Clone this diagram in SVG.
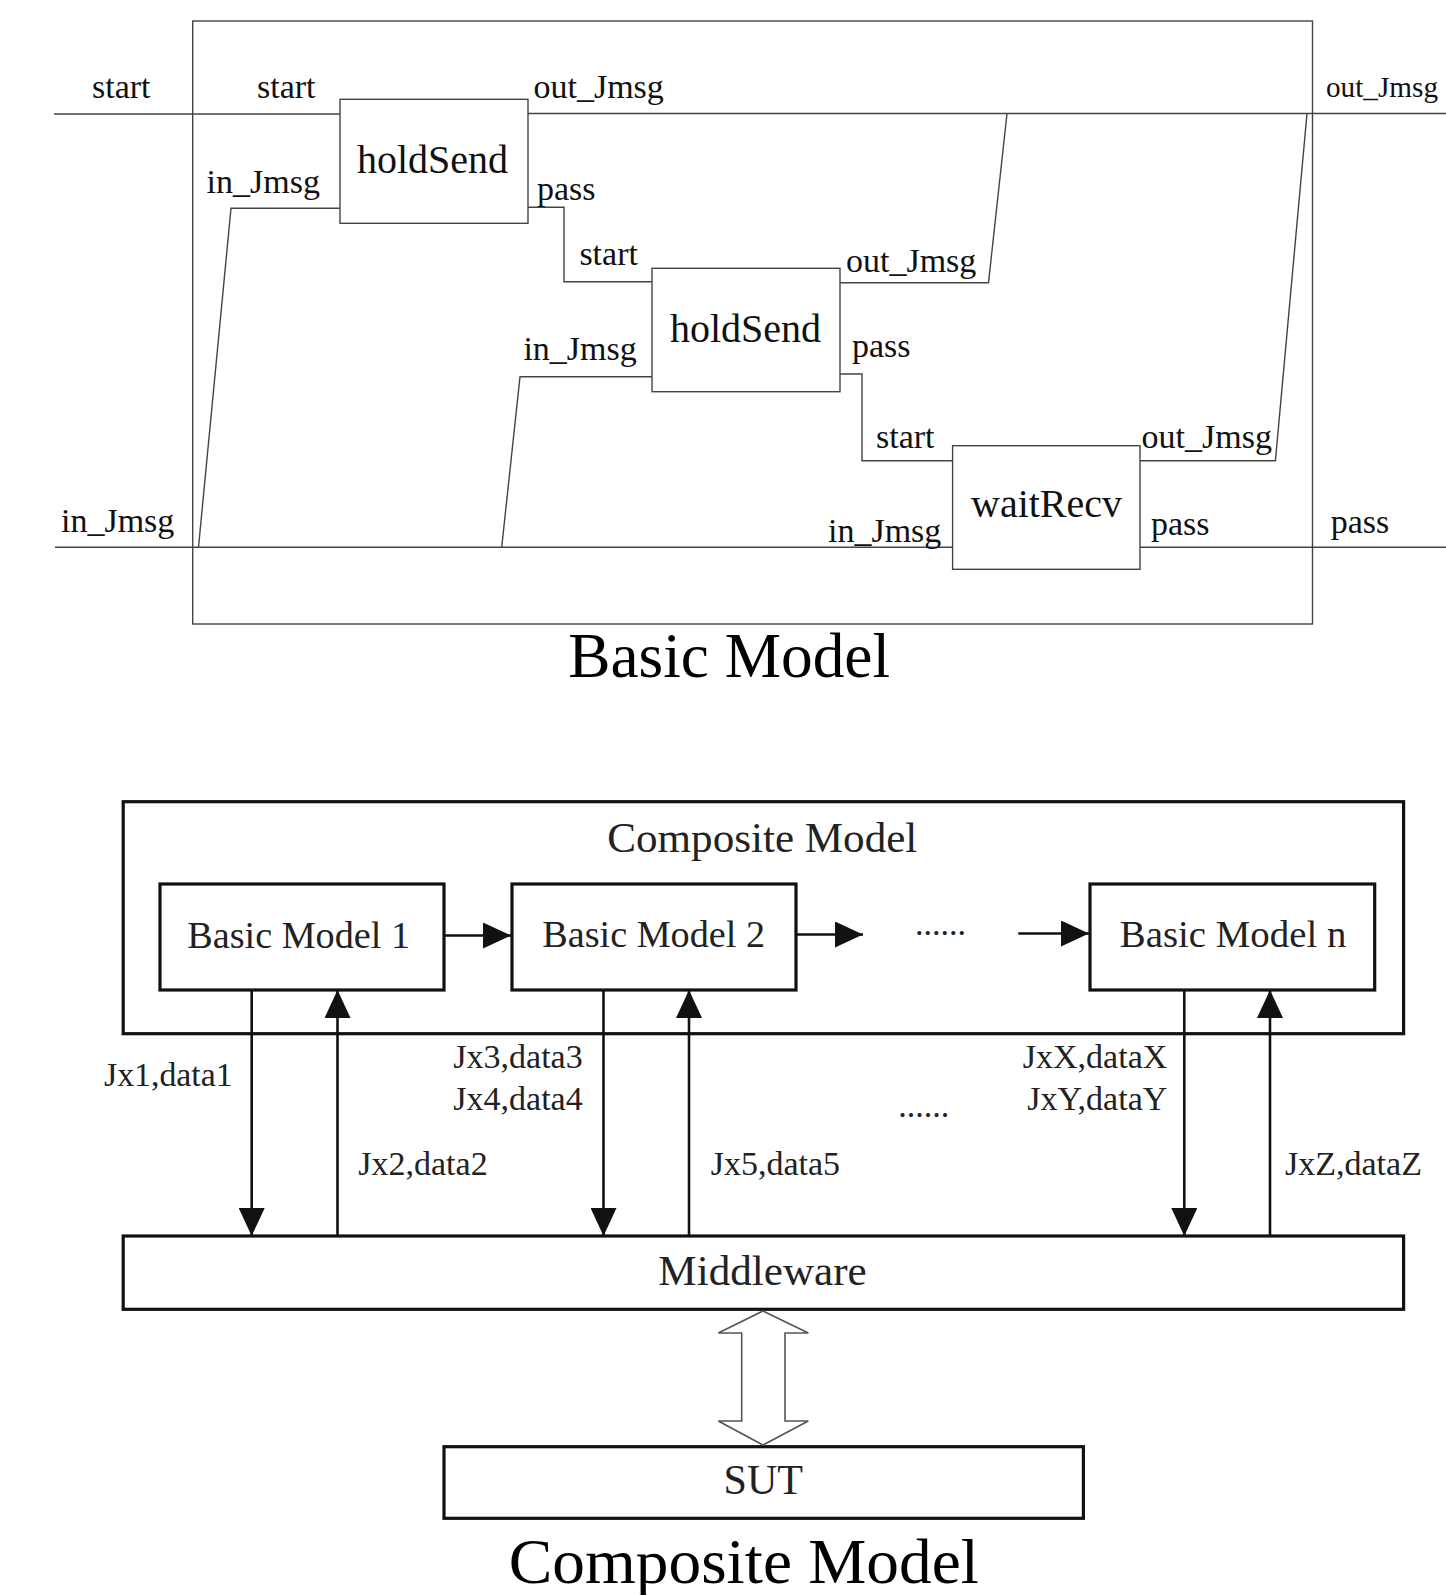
<svg xmlns="http://www.w3.org/2000/svg" width="1446" height="1595" viewBox="0 0 1446 1595">
<style>
  text { font-family: "Liberation Serif", "Times New Roman", serif; fill: #111; }
  .port { font-size: 34px; }
  .bname { font-size: 40px; }
  .title { font-size: 64px; fill: #000; }
  .clbl { font-size: 34px; fill: #222; }
  .cname { font-size: 38px; fill: #222; }
  .big { font-size: 43px; fill: #222; }
  .thin { fill: none; stroke: #444; stroke-width: 1.4; }
  .tbox { fill: #fff; stroke: #444; stroke-width: 1.4; }
  .cbox { fill: #fff; stroke: #111; stroke-width: 3.2; }
  .carrow { fill: none; stroke: #111; stroke-width: 2.6; }
</style>
<defs>
  <marker id="ah" viewBox="0 0 28 26" refX="28" refY="13" markerWidth="28" markerHeight="26" markerUnits="userSpaceOnUse" orient="auto">
    <path d="M0,0 L28,13 L0,26 z" fill="#111"/>
  </marker>
</defs>
<rect width="1446" height="1595" fill="#fff"/>

<!-- ===== Basic Model ===== -->
<g id="basic-model-frame">
  <rect x="192.7" y="21" width="1119.8" height="603" class="thin"/>
</g>

<g id="connectors-basic">
  <line x1="54" y1="114" x2="340" y2="114" class="thin"/>
  <line x1="528" y1="113.5" x2="1446" y2="113.5" class="thin"/>
  <line x1="55" y1="547.3" x2="952.6" y2="547.3" class="thin"/>
  <line x1="1140" y1="547.3" x2="1446" y2="547.3" class="thin"/>
  <polyline points="340,208.3 231,208.3 198.5,547.3" class="thin"/>
  <polyline points="528,207.3 564,207.3 564,281.7 652,281.7" class="thin"/>
  <polyline points="652,376.7 520,376.7 501.7,547.3" class="thin"/>
  <polyline points="840,282.7 988.5,282.7 1007,113.5" class="thin"/>
  <polyline points="840,374 862,374 862,460.7 952.6,460.7" class="thin"/>
  <polyline points="1140,460.7 1275.4,460.7 1307,113.5" class="thin"/>
</g>

<g id="holdSend1">
  <rect x="340" y="99.3" width="188" height="124" class="tbox"/>
  <text x="357" y="173" class="bname">holdSend</text>
</g>
<g id="holdSend2">
  <rect x="652" y="268.3" width="188" height="123.4" class="tbox"/>
  <text x="670" y="342" class="bname">holdSend</text>
</g>
<g id="waitRecv">
  <rect x="952.6" y="445.7" width="187.4" height="123.6" class="tbox"/>
  <text x="971" y="517.3" class="bname">waitRecv</text>
</g>

<g id="port-labels">
  <text x="92" y="98" class="port">start</text>
  <text x="257" y="98" class="port">start</text>
  <text x="533.5" y="98" class="port">out_Jmsg</text>
  <text x="1326" y="97" class="port" style="font-size:30px" textLength="112" lengthAdjust="spacingAndGlyphs">out_Jmsg</text>
  <text x="206.6" y="192.7" class="port">in_Jmsg</text>
  <text x="537" y="200" class="port">pass</text>
  <text x="579.4" y="265" class="port">start</text>
  <text x="846" y="272" class="port">out_Jmsg</text>
  <text x="523.4" y="360" class="port">in_Jmsg</text>
  <text x="852" y="357" class="port">pass</text>
  <text x="876" y="448" class="port">start</text>
  <text x="1141.6" y="448" class="port">out_Jmsg</text>
  <text x="61" y="531.7" class="port">in_Jmsg</text>
  <text x="828" y="542" class="port">in_Jmsg</text>
  <text x="1151" y="535" class="port">pass</text>
  <text x="1330.7" y="533" class="port">pass</text>
</g>

<text x="568.3" y="677.3" class="title" textLength="321.7" lengthAdjust="spacingAndGlyphs">Basic Model</text>

<!-- ===== Composite Model ===== -->
<g id="composite-model">
  <rect x="123.2" y="801.7" width="1280.4" height="232" class="cbox"/>
  <text x="607.3" y="851.7" class="big" textLength="310" lengthAdjust="spacingAndGlyphs">Composite Model</text>
</g>
<g id="basic-model-1">
  <rect x="160" y="884" width="284" height="106" class="cbox"/>
  <text x="187.3" y="948" class="cname" textLength="222.7" lengthAdjust="spacingAndGlyphs">Basic Model 1</text>
</g>
<g id="basic-model-2">
  <rect x="512" y="884" width="284" height="106" class="cbox"/>
  <text x="542.3" y="947" class="cname" textLength="222.7" lengthAdjust="spacingAndGlyphs">Basic Model 2</text>
</g>
<g id="basic-model-n">
  <rect x="1090" y="884" width="284.7" height="106" class="cbox"/>
  <text x="1119.8" y="947" class="cname" textLength="226.5" lengthAdjust="spacingAndGlyphs">Basic Model n</text>
</g>
<g id="middleware">
  <rect x="123.2" y="1236" width="1280.4" height="73.3" class="cbox"/>
  <text x="658.3" y="1285" class="big" textLength="208.4" lengthAdjust="spacingAndGlyphs">Middleware</text>
</g>
<g id="sut">
  <rect x="444" y="1446.7" width="639.4" height="71.6" class="cbox"/>
  <text x="723.5" y="1494" class="big" textLength="79.5" lengthAdjust="spacingAndGlyphs">SUT</text>
</g>

<g id="connectors-composite">
  <line x1="444" y1="935.5" x2="511" y2="935.5" class="carrow" marker-end="url(#ah)"/>
  <line x1="796" y1="934.5" x2="863" y2="934.5" class="carrow" marker-end="url(#ah)"/>
  <line x1="1018.3" y1="933.5" x2="1089" y2="933.5" class="carrow" marker-end="url(#ah)"/>
  <line x1="251.7" y1="990" x2="251.7" y2="1236" class="carrow" marker-end="url(#ah)"/>
  <line x1="337.5" y1="1236" x2="337.5" y2="990" class="carrow" marker-end="url(#ah)"/>
  <line x1="603.5" y1="990" x2="603.5" y2="1236" class="carrow" marker-end="url(#ah)"/>
  <line x1="689" y1="1236" x2="689" y2="990" class="carrow" marker-end="url(#ah)"/>
  <line x1="1184.3" y1="990" x2="1184.3" y2="1236" class="carrow" marker-end="url(#ah)"/>
  <line x1="1270" y1="1236" x2="1270" y2="990" class="carrow" marker-end="url(#ah)"/>
  <polygon points="763,1311 808.3,1333 785,1333 785,1421 808.3,1421 763,1445 718.3,1421 741.7,1421 741.7,1333 718.3,1333" fill="#fff" stroke="#555" stroke-width="1.6"/>
</g>

<g id="composite-labels">
  <text x="915" y="935" class="clbl">......</text>
  <text x="104" y="1085.7" class="clbl" textLength="128.7" lengthAdjust="spacingAndGlyphs">Jx1,data1</text>
  <text x="453.3" y="1068.3" class="clbl" textLength="129.4" lengthAdjust="spacingAndGlyphs">Jx3,data3</text>
  <text x="453.3" y="1110" class="clbl" textLength="129.4" lengthAdjust="spacingAndGlyphs">Jx4,data4</text>
  <text x="358.3" y="1175" class="clbl">Jx2,data2</text>
  <text x="710.7" y="1175" class="clbl">Jx5,data5</text>
  <text x="1167.3" y="1068.3" class="clbl" text-anchor="end">JxX,dataX</text>
  <text x="1167.3" y="1110" class="clbl" text-anchor="end">JxY,dataY</text>
  <text x="898.3" y="1117" class="clbl">......</text>
  <text x="1285" y="1175" class="clbl">JxZ,dataZ</text>
</g>

<text x="508.8" y="1583" class="title" textLength="470" lengthAdjust="spacingAndGlyphs">Composite Model</text>
</svg>
